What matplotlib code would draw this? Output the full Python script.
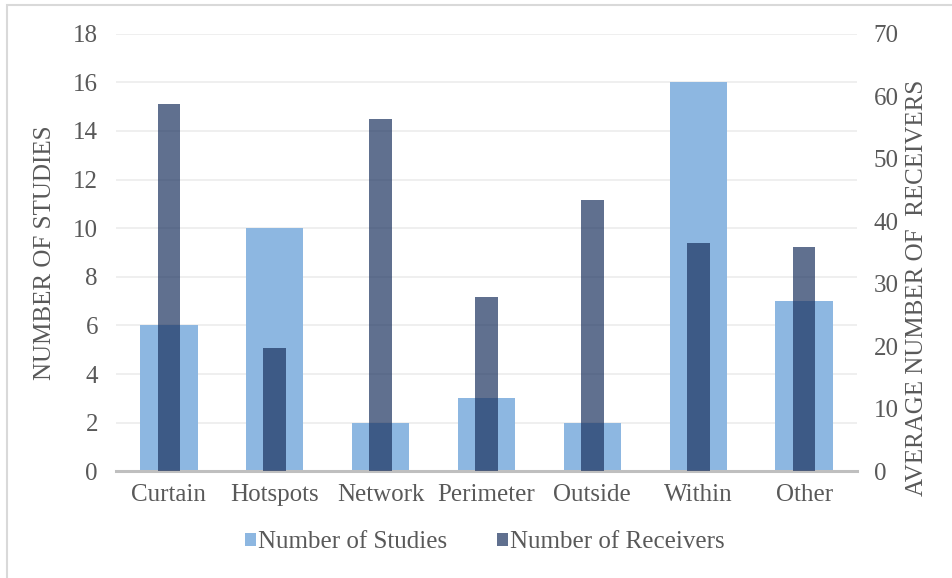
import matplotlib
matplotlib.use("Agg")
import matplotlib.pyplot as plt
import numpy as np
from matplotlib.patches import Rectangle

categories = ["Curtain", "Hotspots", "Network", "Perimeter", "Outside", "Within", "Other"]
studies = [6, 10, 2, 3, 2, 16, 7]
receivers = [58.7, 19.8, 56.3, 27.9, 43.4, 36.5, 35.9]
left_ticks = list(range(0, 19, 2))
right_ticks = list(range(0, 71, 10))

plt.rcParams['font.family'] = ['Liberation Serif', 'DejaVu Serif']
text_col = '#595959'
fs = 18

fig = plt.figure(figsize=(9.53, 5.78), dpi=100)
ax = fig.add_axes([0.1217, 0.1843, 0.7776, 0.7577])
ax2 = ax.twinx()

x = np.arange(len(categories))
ax.bar(x, studies, width=0.542, color='#8DB7E1', label='Number of Studies', zorder=2)
ax2.bar(x, receivers, width=0.214, color='#1C3360', alpha=0.7, label='Number of Receivers', zorder=2)

ax.set_xlim(-0.5, len(categories) - 0.5)
ax.set_ylim(0, 18)
ax2.set_ylim(0, 70)
ax.set_yticks(left_ticks)
ax2.set_yticks(right_ticks)
ax.set_xticks(x)
ax.set_xticklabels(categories)

ax.grid(axis='y', color='#EEEEEE', linewidth=1.3, zorder=0)
ax.set_axisbelow(True)

for a in (ax, ax2):
    for s in a.spines.values():
        s.set_visible(False)
    a.tick_params(length=0, labelsize=fs, labelcolor=text_col)
ax.spines['bottom'].set_visible(True)
ax.spines['bottom'].set_color('#BFBFBF')
ax.spines['bottom'].set_linewidth(2.2)
ax.spines['bottom'].set_zorder(5)
ax.tick_params(axis='y', pad=13)
ax.tick_params(axis='x', pad=9)
ax2.tick_params(axis='y', pad=12)

ax.set_ylabel('NUMBER OF STUDIES', fontsize=fs, color=text_col)
ax2.set_ylabel('AVERAGE NUMBER OF  RECEIVERS', fontsize=fs, color=text_col)
ax.yaxis.set_label_coords(-0.081, 0.5)
ax2.yaxis.set_label_coords(1.066, 0.42)

h1, l1 = ax.get_legend_handles_labels()
h2, l2 = ax2.get_legend_handles_labels()
fig.legend(h1 + h2, l1 + l2, loc='center', bbox_to_anchor=(0.509, 0.062), ncol=2,
           frameon=False, fontsize=fs, labelcolor=text_col, handlelength=0.42,
           handleheight=0.42, handletextpad=0.1, columnspacing=2.0)

# light frame around the chart area
fig.patches.append(Rectangle((7 / 953, -0.1), 2.0, 0.9913 + 0.1, transform=fig.transFigure,
                             fill=False, edgecolor='#D9D9D9', linewidth=1.5))

fig.savefig('out.png', dpi=100)
